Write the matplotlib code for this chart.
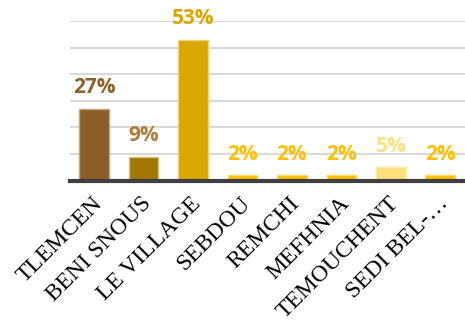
from matplotlib import pyplot as plt
from matplotlib import transforms
import numpy as np

categories = ['TLEMCEN', 'BENI SNOUS', 'LE VILLAGE', 'SEBDOU', 'REMCHI',
              'MEFHNIA', 'TEMOUCHENT', 'SEDI BEL-\u2026']
values = [27, 9, 53, 2, 2, 2, 5, 2]
labels = ['27%', '9%', '53%', '2%', '2%', '2%', '5%', '2%']

bar_colors = ['#8A5D29', '#A07800', '#DAA600', '#FFC000', '#FFC000',
              '#FFC000', '#FFE07F', '#FFC000']
edge_colors = ['#C2A57F', '#D6C07A', '#EDD27A', '#FFD966', '#FFD966',
               '#FFD966', '#FFE9A8', '#FFD966']
text_colors = ['#8E612D', '#B07D3A', '#DAA600', '#FFC000', '#FFC000',
               '#FFC000', '#FFE07F', '#FFC000']

fig = plt.figure(figsize=(4.65, 3.27), dpi=100)
ax = fig.add_axes([69.5 / 465, 1 - 180.5 / 327, 1 - 69.5 / 465, (180.5 - 21) / 327])

x = np.arange(len(categories))
ax.bar(x, values, width=0.6, color=bar_colors, edgecolor=edge_colors,
       linewidth=1, zorder=3)

# etiquetas de percentagem acima das barras
for xi, v, lab, c in zip(x, values, labels, text_colors):
    ax.annotate(lab, (xi, v), xytext=(0, 15), textcoords='offset points',
                ha='center', va='center', color=c, fontsize=15,
                fontweight='bold', family='Open Sans', zorder=4)

ax.set_xlim(-0.5, len(categories) - 0.5)
ax.set_ylim(0, 60)
ax.set_yticks(np.arange(10, 61, 10))
ax.yaxis.grid(True, color='#D9D9D9', linewidth=1.5, zorder=0)
ax.tick_params(axis='y', left=False, labelleft=False)
ax.tick_params(axis='x', length=0, pad=0)

for s in ['top', 'right', 'left']:
    ax.spines[s].set_visible(False)
ax.spines['bottom'].set_color('#404040')
ax.spines['bottom'].set_linewidth(3)
ax.spines['bottom'].set_zorder(5)

ax.set_xticks(x)
ax.set_xticklabels(categories, rotation=45, ha='right', va='top',
                   rotation_mode='anchor', family='Liberation Serif',
                   fontsize=17)
offset = transforms.ScaledTranslation(-2 / 72, -9 / 72, fig.dpi_scale_trans)
for t in ax.get_xticklabels():
    t.set_transform(t.get_transform() + offset)

fig.savefig('out.png', dpi=100)
